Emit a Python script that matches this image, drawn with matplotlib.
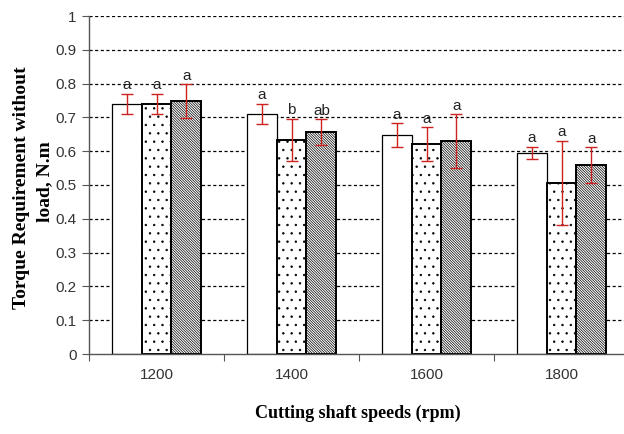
"""Torque requirement without load at four cutting shaft speeds (three treatments)."""

import matplotlib

matplotlib.use("Agg")
import matplotlib.pyplot as plt
import numpy as np
from matplotlib import font_manager

# --------------------------------------------------------------------------- #
# Data
# --------------------------------------------------------------------------- #
speeds = ["1200", "1400", "1600", "1800"]

torque_plain = [0.740, 0.710, 0.648, 0.595]
torque_dotted = [0.740, 0.633, 0.621, 0.506]
torque_hatched = [0.748, 0.657, 0.630, 0.559]

err_plain = [0.030, 0.031, 0.035, 0.018]
err_dotted = [0.030, 0.063, 0.050, 0.125]
err_hatched = [0.050, 0.038, 0.080, 0.052]

letters_plain = ["a", "a", "a", "a"]
letters_dotted = ["a", "b", "a", "a"]
letters_hatched = ["a", "ab", "a", "a"]

# --------------------------------------------------------------------------- #
# Style
# --------------------------------------------------------------------------- #
installed = {f.name for f in font_manager.fontManager.ttflist}
NARROW = ["Liberation Sans Narrow"] if "Liberation Sans Narrow" in installed else []
NARROW += ["Liberation Sans", "DejaVu Sans"]
SERIF = ["Liberation Serif", "DejaVu Serif"]
ERR_COLOR = "#cc2222"

plt.rcParams["hatch.linewidth"] = 0.5

fig = plt.figure(figsize=(6.24, 4.34), dpi=100)
ax = fig.add_axes([89 / 624, 1 - 354 / 434, 1 - 89 / 624, (354 - 16) / 434])

x = np.arange(len(speeds))
w = 0.222
series = [
    (torque_plain, err_plain, letters_plain, "", 0.9),
    (torque_dotted, err_dotted, letters_dotted, "..", 1.4),
    (torque_hatched, err_hatched, letters_hatched, "\\" * 13, 1.4),
]

for k, (vals, errs, labs, hatch, lw) in enumerate(series):
    pos = x + (k - 1) * w
    ax.bar(pos, vals, width=w, color="white", edgecolor="black",
           linewidth=lw, hatch=hatch, zorder=2)
    ax.errorbar(pos, vals, yerr=errs, fmt="none", ecolor=ERR_COLOR,
                elinewidth=1.0, capsize=4, capthick=1.0, zorder=3)
    for p, v, e, t in zip(pos, vals, errs, labs):
        ax.text(p, v + e + 0.004, t, ha="center", va="bottom",
                fontsize=11, family=NARROW, color="#222222", zorder=4)

# dashed horizontal gridlines behind the bars
for gy in np.arange(0.1, 1.01, 0.1):
    ax.axhline(gy, color="black", linestyle=(0, (2.5, 2)), linewidth=0.9, zorder=1)

ax.set_ylim(0, 1)
ax.set_xlim(-0.5, (624 - 89) / 135 - 0.5)
ax.set_yticks(np.arange(0, 1.01, 0.1))
ax.set_yticklabels(["0", "0.1", "0.2", "0.3", "0.4", "0.5",
                    "0.6", "0.7", "0.8", "0.9", "1"],
                   family=NARROW, fontsize=11, color="#333333")

# category labels at group centres, tick marks between groups
ax.set_xticks(np.arange(-0.5, 3.0, 1.0))
ax.set_xticklabels([])
ax.set_xticks(x, minor=True)
ax.set_xticklabels(speeds, minor=True, family=NARROW, fontsize=11, color="#333333")
ax.tick_params(axis="x", which="minor", length=0, pad=10)
ax.tick_params(axis="x", which="major", length=5, direction="out", color="#555555")
ax.tick_params(axis="y", length=5, direction="out", color="#555555", pad=4)

for side in ("top", "right"):
    ax.spines[side].set_visible(False)
for side in ("left", "bottom"):
    ax.spines[side].set_color("#555555")
    ax.spines[side].set_linewidth(1.0)

fig.text(358 / 624, 1 - 413 / 434, "Cutting shaft speeds (rpm)", ha="center",
         va="center", family=SERIF, fontweight="bold", fontsize=13)
fig.text(22 / 624, 1 - 188 / 434, "Torque Requirement without",
         ha="center", va="center", rotation=90, family=SERIF,
         fontweight="bold", fontsize=14)
fig.text(45 / 624, 1 - 182 / 434, "load, N.m",
         ha="center", va="center", rotation=90, family=SERIF,
         fontweight="bold", fontsize=14)

fig.savefig("out.png", dpi=100)
